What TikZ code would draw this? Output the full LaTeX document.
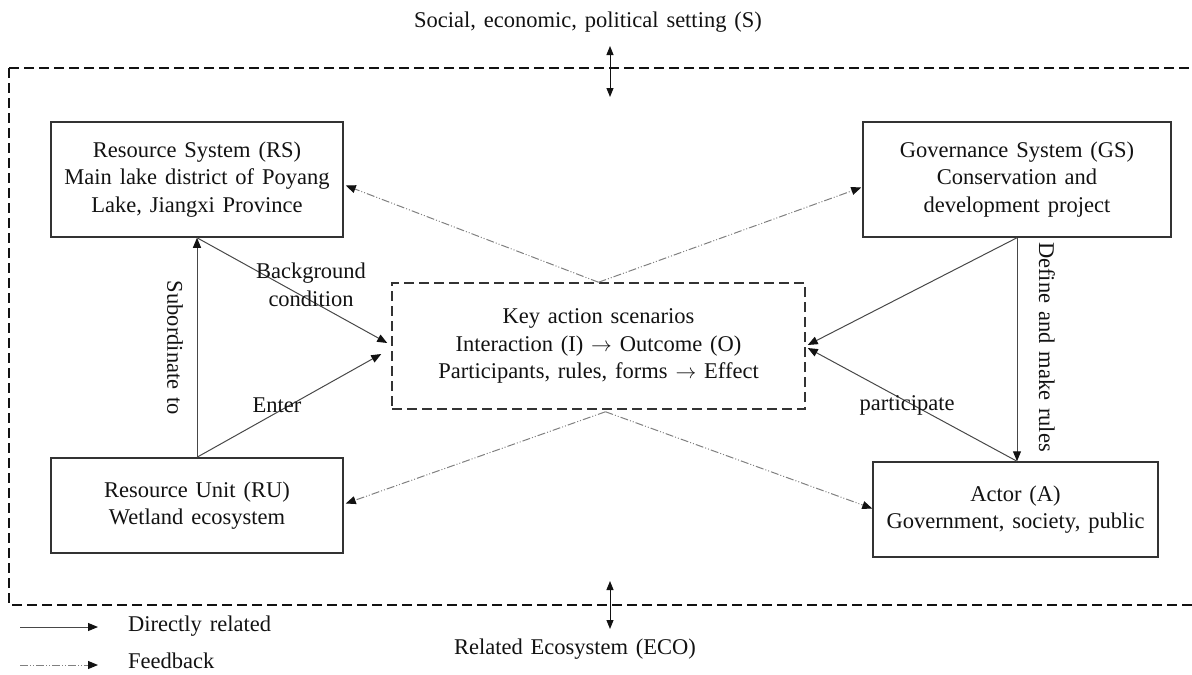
\documentclass[tikz,border=0pt]{standalone}
\usepackage{fontspec}
\setmainfont[WordSpace=1.4]{Liberation Serif}
\usetikzlibrary{arrows.meta,calc}

\definecolor{boxline}{HTML}{333333}
\definecolor{linkline}{HTML}{484848}
\definecolor{fbline}{HTML}{808080}
\definecolor{ink}{HTML}{121212}

\tikzset{
  txt/.style={font=\fontsize{22.5}{27.5}\selectfont, text=ink, align=center, inner sep=0pt},
  sysbox/.style={txt, draw=boxline, line width=1.5pt},
  keybox/.style={txt, draw=boxline, line width=1.5pt, dash pattern=on 10pt off 5pt},
  tipA/.style={-{Triangle[length=10pt,width=8pt,color=ink]}},
  direct/.style={tipA, draw=linkline, line width=1pt},
  feedback/.style={tipA, draw=fbline, line width=1pt,
    dash pattern=on 8pt off 2pt on 1pt off 2pt on 1pt off 2pt},
  twoway/.style={{Triangle[length=9pt,width=7pt]}-{Triangle[length=9pt,width=7pt]}, draw=ink, line width=1pt},
  frame/.style={draw=ink, line width=1.3pt, dash pattern=on 10pt off 5pt},
}

\begin{document}
\begin{tikzpicture}[x=1pt,y=-1pt]
\useasboundingbox (0,0) rectangle (1192,675);

% surrounding setting
\begin{scope}
\clip (0,0) rectangle (1192,675);
\draw[frame] (9,68) -- (1200,68) (9,68) -- (9,605) -- (1200,605);
\end{scope}

\node[txt] (S) at (588,22) {Social, economic, political setting (S)};
\node[txt] (ECO) at (575,649) {Related Ecosystem (ECO)};
\coordinate (Stop) at (610,46);
\coordinate (Sbot) at (610,97);
\coordinate (Etop) at (610,581);
\coordinate (Ebot) at (610,629);
\draw[twoway] (Stop) -- (Sbot);
\draw[twoway] (Etop) -- (Ebot);

% first-tier subsystems
\node[sysbox, minimum width=292pt, minimum height=115pt] (RS) at (197,179.5)
  {Resource System (RS)\\Main lake district of Poyang\\Lake, Jiangxi Province};
\node[sysbox, minimum width=308pt, minimum height=115pt] (GS) at (1017,179.5)
  {Governance System (GS)\\Conservation and\\development project};
\node[sysbox, minimum width=292pt, minimum height=95pt] (RU) at (197,505.5)
  {Resource Unit (RU)\\Wetland ecosystem};
\node[sysbox, minimum width=285pt, minimum height=95pt] (A) at (1015.5,509.5)
  {Actor (A)\\Government, society, public};

% focal action situation
\node[keybox, minimum width=413pt, minimum height=126pt] (K) at (598.5,346)
  {Key action scenarios\\Interaction (I) $\rightarrow$ Outcome (O)\\Participants, rules, forms $\rightarrow$ Effect};

% direct relations
\draw[direct] (RU.north) -- (RS.south);
\draw[direct] (RS.south) -- ($(K.west)+(-4,-3)$);
\draw[direct] (RU.north) -- ($(K.west)+(-10,8)$);
\draw[direct] (GS.south) -- ($(K.east)+(2,-1)$);
\draw[direct] (GS.south) -- (GS.south |- A.north);
\draw[direct] (GS.south |- A.north) -- ($(K.east)+(2,2)$);

\node[txt, rotate=-90] (lsub) at (175,348) {Subordinate to};
\node[txt] (lbg) at (311,285) {Background\\condition};
\node[txt] (lenter) at (277,405) {Enter};
\node[txt] (lpart) at (907,405) {participate};
\node[txt, rotate=-90] (ldef) at (1047,347) {Define and make rules};

% feedback
\draw[feedback] (K.north) -- ($(RS.east)+(2,6)$);
\draw[feedback] (K.north) -- ($(GS.west)+(-1,8)$);
\draw[feedback] ($(K.south)+(7,2)$) -- ($(RU.east)+(2,-2)$);
\draw[feedback] ($(K.south)+(7,2)$) -- ($(A.west)+(0,-1)$);

% legend
\coordinate (d1) at (20,627);
\coordinate (d2) at (98,627);
\coordinate (f1) at (20,665);
\coordinate (f2) at (98,665);
\draw[direct] (d1) -- (d2);
\draw[feedback] (f1) -- (f2);
\node[txt, anchor=west] (ldirect) at (128,626) {Directly related};
\node[txt, anchor=west] (lfeed) at (128,661) {Feedback};
\end{tikzpicture}
\end{document}
